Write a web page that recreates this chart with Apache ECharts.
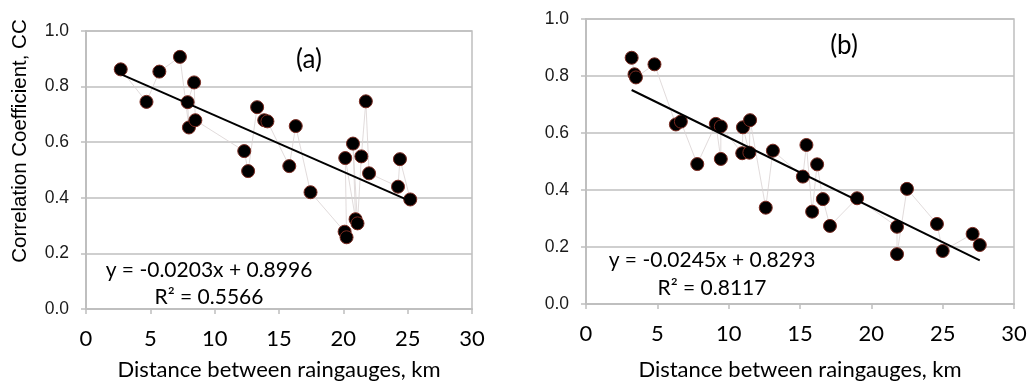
<!DOCTYPE html>
<html>
<head>
<meta charset="utf-8">
<script src="https://cdn.jsdelivr.net/npm/echarts@6/dist/echarts.min.js"></script>
<style>
html,body{margin:0;padding:0;background:#fff;}
#chart{width:1028px;height:381px;}
</style>
</head>
<body>
<div id="chart"></div>
<script>
// ---- Data ----
const xTicks = [0, 5, 10, 15, 20, 25, 30];
const yTicks = [0.0, 0.2, 0.4, 0.6, 0.8, 1.0];

// Panel (a): distance (km), correlation coefficient (in data order)
const distA = [2.7, 4.7, 5.7, 7.3, 8.0, 7.9, 8.4, 8.5, 12.3, 12.6, 13.3, 13.85, 14.1, 15.8, 16.3, 17.45, 20.1, 20.25, 20.15, 20.95, 20.75, 21.1, 21.4, 21.75, 22.0, 24.25, 24.4, 25.2];
const ccA   = [0.862, 0.745, 0.854, 0.907, 0.653, 0.744, 0.815, 0.679, 0.568, 0.496, 0.726, 0.679, 0.675, 0.514, 0.658, 0.420, 0.278, 0.258, 0.543, 0.323, 0.595, 0.308, 0.549, 0.747, 0.488, 0.440, 0.539, 0.394];
const fitA  = {slope: -0.0203, intercept: 0.8996, r2: 0.5566};

// Panel (b)
const distB = [3.2, 3.4, 3.5, 4.8, 6.3, 6.65, 7.8, 9.1, 9.45, 9.45, 10.95, 11.0, 11.45, 11.5, 12.6, 13.1, 15.2, 15.45, 15.85, 16.2, 16.6, 17.1, 19.0, 21.8, 21.8, 22.5, 24.6, 25.0, 27.1, 27.6];
const ccB   = [0.864, 0.806, 0.795, 0.841, 0.630, 0.640, 0.491, 0.632, 0.509, 0.623, 0.529, 0.620, 0.531, 0.645, 0.338, 0.538, 0.447, 0.558, 0.324, 0.490, 0.368, 0.274, 0.371, 0.271, 0.175, 0.404, 0.281, 0.186, 0.246, 0.207];
const fitB  = {slope: -0.0245, intercept: 0.8293, r2: 0.8117};

const panelTitles = ['(a)', '(b)'];
const xName = 'Distance between raingauges, km';
const yName = 'Correlation Coefficient, CC';

// ---- Helpers ----
function pairs(xs, ys){ return xs.map((x,i)=>[x, ys[i]]); }
function trend(xs, fit){
  const x0 = Math.min(...xs), x1 = Math.max(...xs);
  return [[x0, fit.slope*x0 + fit.intercept], [x1, fit.slope*x1 + fit.intercept]];
}
function eqText(fit){
  const s = fit.slope < 0 ? '-' + Math.abs(fit.slope).toFixed(4) : fit.slope.toFixed(4);
  return 'y = ' + s + 'x + ' + fit.intercept.toFixed(4);
}

const CAL = 'Lato, "Open Sans", sans-serif';
const ARI = '"Liberation Sans", Arial, sans-serif';
const gridGray = '#bfbfbf';

function xAxis(idx, gap){
  return {
    gridIndex: idx, type: 'value', min: xTicks[0], max: xTicks[xTicks.length-1], interval: 5,
    axisLine: {show: true, onZero: false, lineStyle: {color: gridGray, width: 2}},
    axisTick: {show: true, length: 5, lineStyle: {color: gridGray, width: 1.5}},
    splitLine: {show: false},
    axisLabel: {color: '#000', fontFamily: CAL, fontSize: 22, margin: 19},
    name: xName, nameLocation: 'middle', nameGap: gap,
    nameTextStyle: {color: '#000', fontFamily: CAL, fontSize: 22}
  };
}
function yAxis(idx){
  return {
    gridIndex: idx, type: 'value', min: yTicks[0], max: yTicks[yTicks.length-1], interval: 0.2,
    axisLine: {show: true, onZero: false, lineStyle: {color: gridGray, width: 2}},
    axisTick: {show: true, length: 5, lineStyle: {color: gridGray, width: 1.5}},
    splitLine: {show: true, lineStyle: {color: gridGray, width: 1.5}},
    axisLabel: {color: '#1a1a1a', fontFamily: ARI, fontSize: 17.5, margin: 17,
      formatter: v => v.toFixed(1)}
  };
}
function scatterSeries(idx, xs, ys){
  return {
    type: 'line', xAxisIndex: idx, yAxisIndex: idx, data: pairs(xs, ys),
    symbol: 'circle', symbolSize: 13, showSymbol: true,
    itemStyle: {color: '#000', borderColor: '#7a2a20', borderWidth: 1},
    lineStyle: {color: '#d9d2d2', width: 0.8},
    z: 3, animation: false
  };
}
function trendSeries(idx, xs, fit){
  return {
    type: 'line', xAxisIndex: idx, yAxisIndex: idx, data: trend(xs, fit),
    symbol: 'none', lineStyle: {color: '#000', width: 2}, z: 4, animation: false
  };
}
function label(text, x, y, size, family, extra){
  return Object.assign({type: 'text', x: x, y: y, style: {text: text, font: size + 'px ' + family, fill: '#000', textAlign: 'center', textVerticalAlign: 'middle'}}, extra || {});
}

const chart = echarts.init(document.getElementById('chart'), null, {renderer: 'canvas'});
chart.setOption({
  animation: false,
  backgroundColor: '#fff',
  grid: [
    {left: 86, top: 31, right: 556, bottom: 72, show: true, borderColor: gridGray, borderWidth: 1.5, containLabel: false, outerBoundsMode: 'none'},
    {left: 586, top: 19, right: 14, bottom: 77, show: true, borderColor: gridGray, borderWidth: 1.5, containLabel: false, outerBoundsMode: 'none'}
  ],
  xAxis: [xAxis(0, 50), xAxis(1, 55)],
  yAxis: [yAxis(0), yAxis(1)],
  series: [
    scatterSeries(0, distA, ccA), trendSeries(0, distA, fitA),
    scatterSeries(1, distB, ccB), trendSeries(1, distB, fitB)
  ],
  graphic: [
    label(yName, 20, 141, 20.5, ARI, {rotation: Math.PI/2}),
    label(panelTitles[0], 309, 60, 26, CAL),
    label(panelTitles[1], 844, 46, 26, CAL),
    label(eqText(fitA), 209, 270, 21, CAL),
    label('R² = ' + fitA.r2.toFixed(4), 209, 297, 21, CAL),
    label(eqText(fitB), 712, 260, 21, CAL),
    label('R² = ' + fitB.r2.toFixed(4), 712, 288, 21, CAL)
  ]
});
</script>
</body>
</html>
